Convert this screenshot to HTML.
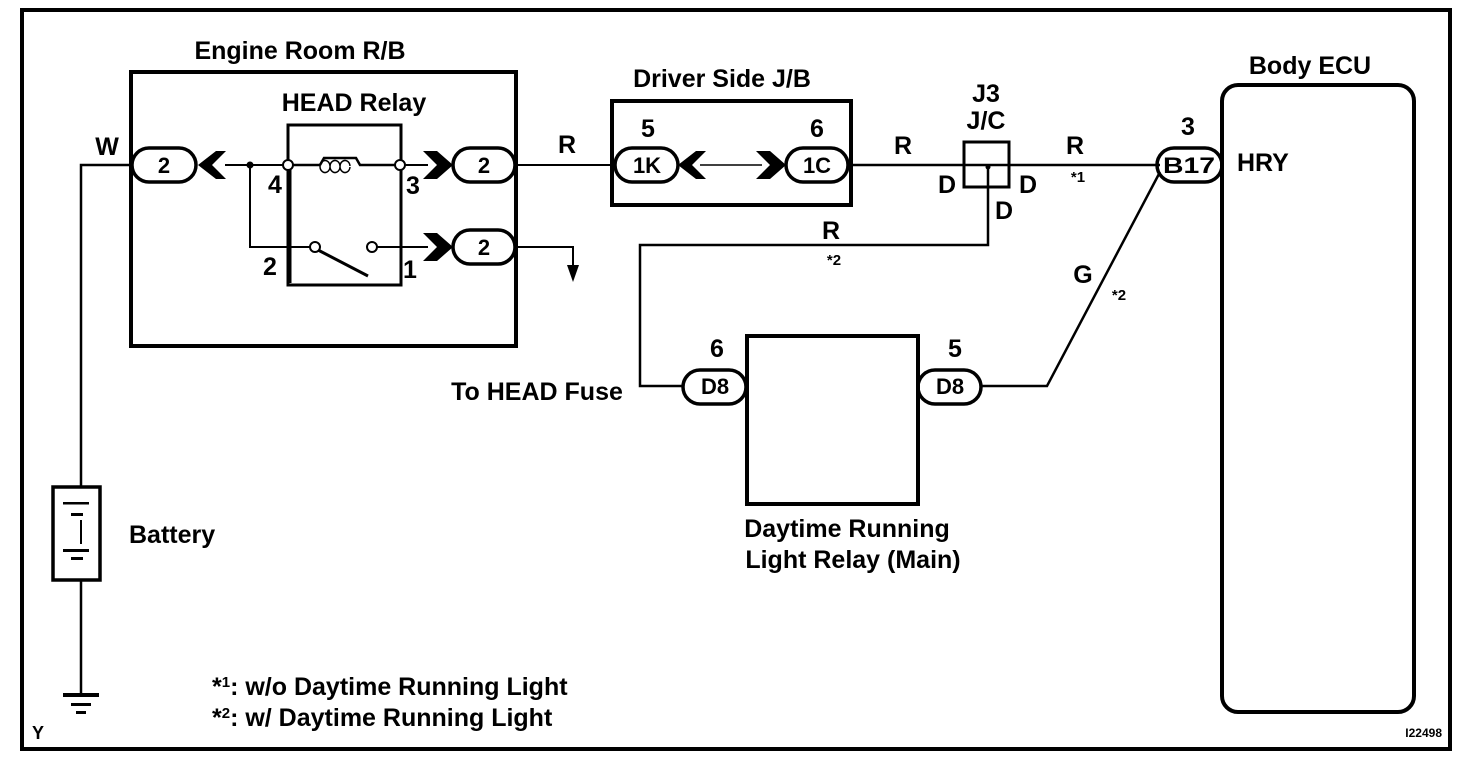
<!DOCTYPE html>
<html><head><meta charset="utf-8"><style>
html,body{margin:0;padding:0;background:#fff;}
svg{display:block;}
text{font-family:"Liberation Sans",sans-serif;font-size:25px;font-weight:bold;fill:#000;}
.c{text-anchor:middle;}
.p{font-size:22px;}
</style></head><body>
<svg width="1472" height="766" viewBox="0 0 1472 766" xmlns="http://www.w3.org/2000/svg">
<g fill="none" stroke="#000">
<rect x="22" y="10" width="1428" height="739" stroke-width="4"/>
<rect x="131" y="72" width="385" height="274" stroke-width="4"/>
<rect x="288" y="125" width="113" height="160" stroke-width="3"/>
<polyline points="130,165 81,165 81,488" stroke-width="2.5"/>
<line x1="81" y1="580" x2="81" y2="693" stroke-width="2.5"/>
<line x1="225" y1="165" x2="287" y2="165" stroke-width="2"/>
<line x1="293" y1="165" x2="320" y2="165" stroke-width="2.5"/>
<path d="M320,165 L324,158 L356,158 L360,165 L395,165" stroke-width="2.5"/>
<path d="M330,167 a5,6 0 1 1 0,-1 M340,167 a5,6 0 1 1 0,-1 M350,167 a5,6 0 1 1 0,-1" stroke-width="1.5"/>
<line x1="405" y1="165" x2="428" y2="165" stroke-width="2"/>
<polyline points="250,165 250,247 311,247" stroke-width="2"/>
<line x1="318" y1="250" x2="368" y2="276" stroke-width="3"/>
<line x1="377" y1="247" x2="428" y2="247" stroke-width="2"/>
<line x1="290" y1="170" x2="290" y2="283" stroke-width="3"/>
<circle cx="288" cy="165" r="5" fill="#fff" stroke-width="2"/>
<circle cx="400" cy="165" r="5" fill="#fff" stroke-width="2"/>
<circle cx="315" cy="247" r="5" fill="#fff" stroke-width="2"/>
<circle cx="372" cy="247" r="5" fill="#fff" stroke-width="2"/>
<rect x="132" y="148" width="64" height="34" rx="17" stroke-width="3.5"/>
<rect x="453" y="148" width="62" height="34" rx="17" stroke-width="3.5"/>
<rect x="453" y="230" width="62" height="34" rx="17" stroke-width="3.5"/>
<polyline points="516,247 573,247 573,272" stroke-width="2"/>
<line x1="516" y1="165" x2="614" y2="165" stroke-width="2"/>
<rect x="612" y="101" width="239" height="104" stroke-width="4"/>
<rect x="615" y="148" width="63" height="34" rx="17" stroke-width="3.5"/>
<rect x="786" y="148" width="62" height="34" rx="17" stroke-width="3.5"/>
<line x1="700" y1="165" x2="762" y2="165" stroke-width="1.5"/>
<line x1="851" y1="165" x2="1160" y2="165" stroke-width="2.5"/>
<rect x="964" y="142" width="45" height="45" stroke-width="3"/>
<polyline points="988,165 988,245 640,245 640,386 684,386" stroke-width="2.5"/>
<rect x="747" y="336" width="171" height="168" stroke-width="4"/>
<rect x="683" y="370" width="63" height="34" rx="17" stroke-width="3.5"/>
<rect x="918" y="370" width="63" height="34" rx="17" stroke-width="3.5"/>
<polyline points="981,386 1047,386 1160,172" stroke-width="2.5"/>
<rect x="1222" y="85" width="192" height="627" rx="16" stroke-width="4"/>
<rect x="1157" y="148" width="65" height="34" rx="17" stroke-width="3.5"/>
<rect x="53" y="487" width="47" height="93" stroke-width="3.5"/>
</g>
<g fill="#000">
<circle cx="250" cy="165" r="3.5"/>
<circle cx="988" cy="167" r="2.5"/>
<polygon points="198,165 216,151 226,151 212,165 226,179 216,179"/>
<polygon points="678,165 696,151 706,151 692,165 706,179 696,179"/>
<polygon points="453,165 437,151 423,151 437,165 423,179 437,179"/>
<polygon points="453,247 437,233 423,233 437,247 423,261 437,261"/>
<polygon points="786,165 770,151 756,151 770,165 756,179 770,179"/>
<polygon points="567,265 579,265 573,282"/>
<rect x="63" y="502" width="26" height="2.5"/><rect x="71" y="513" width="12" height="3"/>
<rect x="80" y="520" width="2" height="24"/>
<rect x="63" y="549" width="26" height="3"/><rect x="71" y="557" width="12" height="3"/>
<rect x="63" y="693" width="36" height="4"/><rect x="71" y="703" width="20" height="3"/><rect x="76" y="711" width="10" height="3"/>
</g>
<text x="300" y="59" class="c">Engine Room R/B</text>
<text x="354" y="111" class="c">HEAD Relay</text>
<text x="107" y="155" class="c">W</text>
<text x="164" y="173" class="c p">2</text>
<text x="484" y="173" class="c p">2</text>
<text x="484" y="255" class="c p">2</text>
<text x="275" y="193" class="c">4</text>
<text x="413" y="194" class="c">3</text>
<text x="270" y="275" class="c">2</text>
<text x="410" y="278" class="c">1</text>
<text x="567" y="153" class="c">R</text>
<text x="537" y="400" class="c">To HEAD Fuse</text>
<text x="722" y="87" class="c">Driver Side J/B</text>
<text x="648" y="137" class="c">5</text>
<text x="817" y="137" class="c">6</text>
<text x="647" y="173" class="c p">1K</text>
<text x="817" y="173" class="c p">1C</text>
<text x="903" y="154" class="c">R</text>
<text x="986" y="102" class="c">J3</text>
<text x="986" y="129" class="c">J/C</text>
<text x="947" y="193" class="c">D</text>
<text x="1028" y="193" class="c">D</text>
<text x="1004" y="219" class="c">D</text>
<text x="1075" y="154" class="c">R</text>
<text x="1078" y="182" class="c" style="font-size:15px">*1</text>
<text x="831" y="239" class="c">R</text>
<text x="834" y="265" class="c" style="font-size:15px">*2</text>
<text x="1083" y="283" class="c">G</text>
<text x="1119" y="300" class="c" style="font-size:15px">*2</text>
<text x="717" y="357" class="c">6</text>
<text x="955" y="357" class="c">5</text>
<text x="715" y="394" class="c p">D8</text>
<text x="950" y="394" class="c p">D8</text>
<text x="847" y="537" class="c">Daytime Running</text>
<text x="853" y="568" class="c">Light Relay (Main)</text>
<text x="1310" y="74" class="c">Body ECU</text>
<text x="1188" y="135" class="c">3</text>
<text x="1189" y="173" class="c p" textLength="52" lengthAdjust="spacingAndGlyphs">B17</text>
<text x="1237" y="171">HRY</text>
<text x="129" y="543">Battery</text>
<text x="212" y="695">*<tspan dy="-8" style="font-size:15px">1</tspan><tspan dy="8">: w/o Daytime Running Light</tspan></text>
<text x="212" y="726">*<tspan dy="-8" style="font-size:15px">2</tspan><tspan dy="8">: w/ Daytime Running Light</tspan></text>
<text x="32" y="739" style="font-size:18px">Y</text>
<text x="1442" y="737" style="font-size:12px;text-anchor:end">I22498</text>
</svg>
</body></html>
